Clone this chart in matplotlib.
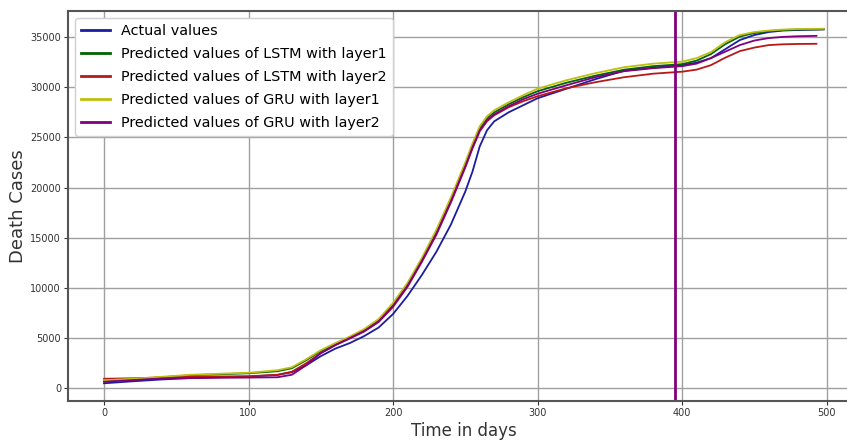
import numpy as np
import matplotlib
matplotlib.use("Agg")
import matplotlib.pyplot as plt

# values
days = [0, 20, 40, 60, 80, 100, 120, 130, 140, 150, 160, 170, 180, 190, 200,
        210, 220, 230, 240, 250, 255, 260, 265, 270, 280, 290, 300, 320, 340,
        360, 380, 400, 410, 420, 430, 440, 450, 460, 470, 480, 498]
days_short = days[:-1] + [493]

actual = [500, 700, 880, 1020, 1110, 1170, 1330, 1600, 2300, 3200, 3950, 4500,
          5200, 6050, 7400, 9200, 11300, 13600, 16300, 19600, 21600, 24100, 25700,
          26600, 27500, 28200, 28900, 29850, 30800, 31650, 31950, 32200, 32450,
          32900, 33800, 34700, 35200, 35500, 35650, 35700, 35760]
lstm1 = [750, 900, 1100, 1300, 1400, 1500, 1700, 2000, 2800, 3700, 4400, 5050,
         5800, 6800, 8300, 10300, 12800, 15600, 18800, 22300, 24200, 25900, 26900,
         27500, 28300, 29000, 29600, 30450, 31150, 31750, 32100, 32300, 32650,
         33300, 34300, 35050, 35400, 35600, 35700, 35750, 35780]
lstm2 = [950, 1000, 1080, 1150, 1180, 1200, 1350, 1650, 2500, 3500, 4300, 4950,
         5650, 6600, 8100, 10100, 12600, 15300, 18500, 22000, 23900, 25600, 26600,
         27200, 28000, 28600, 29100, 29900, 30500, 31000, 31350, 31550, 31750,
         32200, 32950, 33600, 33950, 34200, 34280, 34310, 34330]
gru1 = [800, 950, 1150, 1350, 1450, 1550, 1800, 2100, 2900, 3800, 4500, 5150,
        5900, 6900, 8500, 10500, 13000, 15800, 19000, 22500, 24400, 26100, 27100,
        27700, 28500, 29200, 29850, 30700, 31400, 32000, 32350, 32550, 32900,
        33500, 34500, 35200, 35500, 35650, 35750, 35800, 35830]
gru2 = [650, 820, 980, 1020, 1050, 1070, 1100, 1350, 2300, 3500, 4300, 5000,
        5700, 6650, 8200, 10200, 12700, 15400, 18600, 22100, 24000, 25700, 26700,
        27300, 28100, 28800, 29350, 30200, 31000, 31600, 31900, 32100, 32350,
        32900, 33550, 34200, 34650, 34900, 35020, 35080, 35120]
split_day = 395

fig = plt.figure(figsize=(8.47, 4.4), dpi=100)
ax = fig.add_axes([0.0803, 0.0886, 0.9346, 0.8864])

ax.plot(days, actual, color="#1c1ca0", lw=1.3, label="Actual values")
ax.plot(days, lstm1, color="darkgreen", lw=1.3, label="Predicted values of LSTM with layer1")
ax.plot(days_short, lstm2, color="#b81818", lw=1.3, label="Predicted values of LSTM with layer2")
ax.plot(days, gru1, color="#bfbf10", lw=1.3, label="Predicted values of GRU with layer1")
ax.plot(days_short, gru2, color="purple", lw=1.3, label="Predicted values of GRU with layer2")
ax.axvline(split_day, color="purple", lw=2)

ax.grid(True, color="#a0a0a0", lw=1)
ax.set_axisbelow(True)
for s in ax.spines.values():
    s.set_color("#555555")
    s.set_linewidth(1.5)

ax.tick_params(labelsize=7, colors="#333333", length=3, pad=2)
ax.set_xlabel("Time in days", fontsize=12, color="#333333", labelpad=3)
ax.set_ylabel("Death Cases", fontsize=13, color="#333333", labelpad=2)

leg = ax.legend(loc="upper left", fontsize=10.4, framealpha=1, edgecolor="#d0d0d0",
                labelspacing=0.62, handlelength=2.0)
for h in leg.get_lines():
    h.set_linewidth(2)

fig.savefig("out.png", dpi=100)
